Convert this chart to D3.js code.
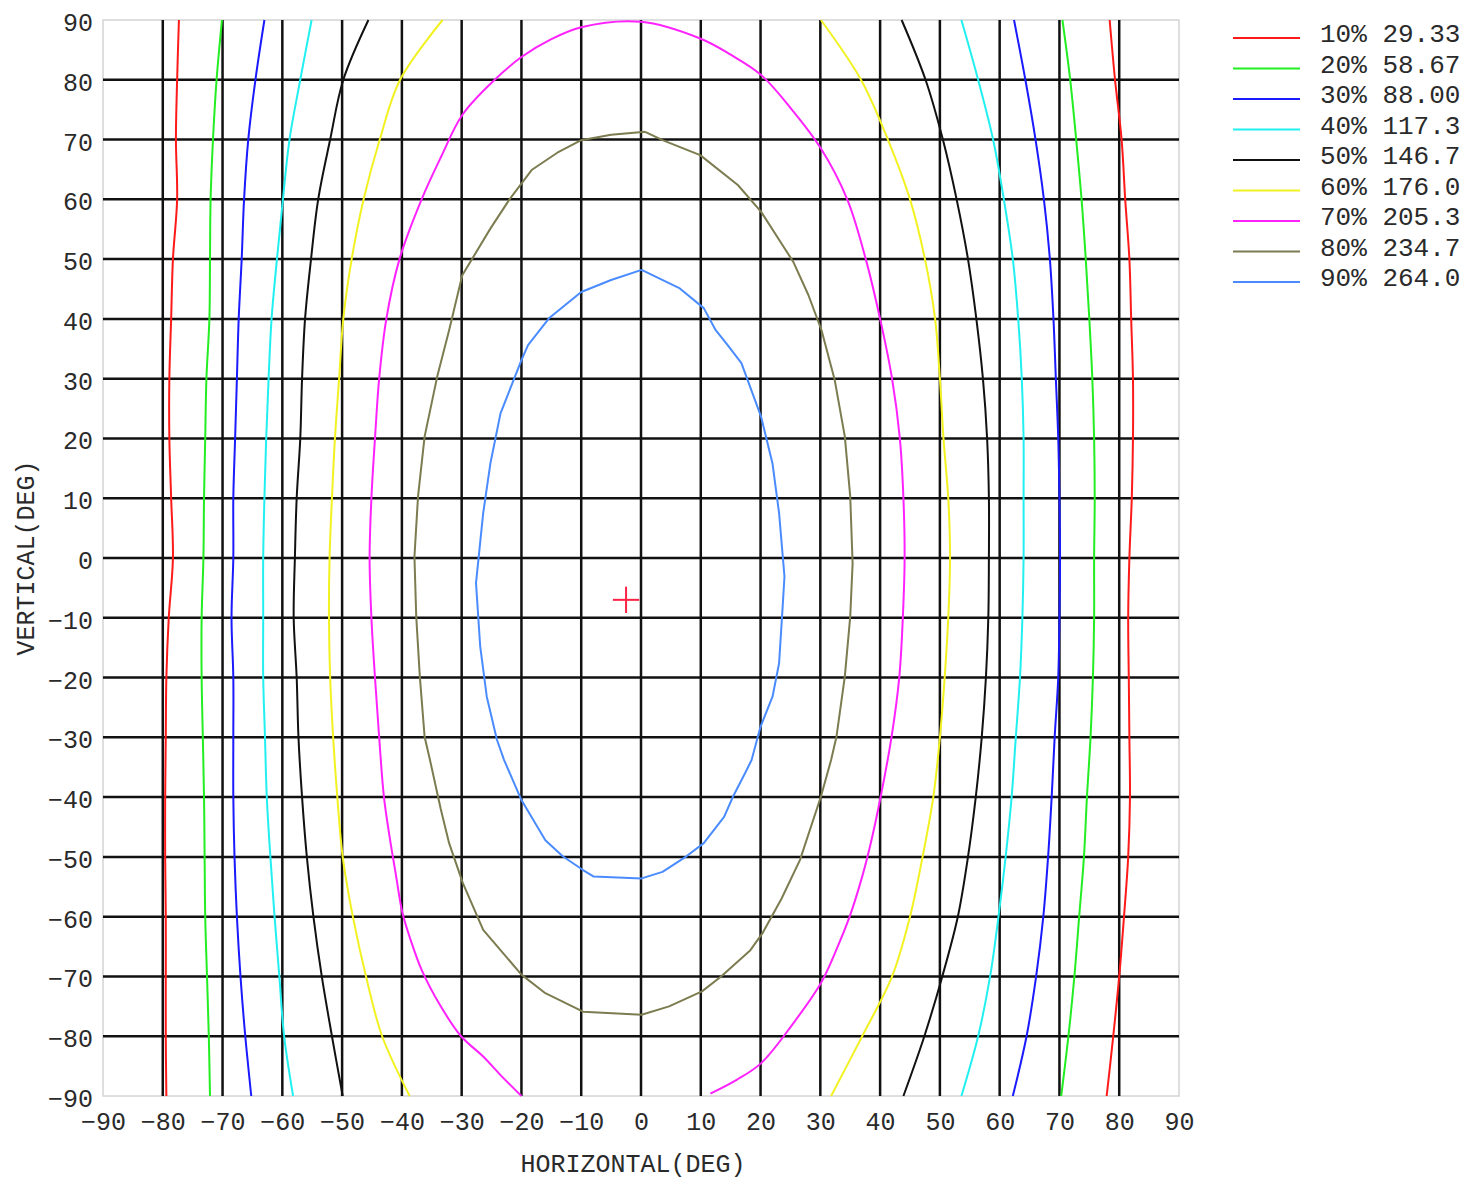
<!DOCTYPE html>
<html>
<head>
<meta charset="utf-8">
<script src="https://cdn.jsdelivr.net/npm/d3@7"></script>
<style>
  body { margin: 0; background: #fff; }
  svg text { font-family: "Liberation Mono", "Courier New", monospace; fill: #2a2a2a; }
</style>
</head>
<body>
<svg id="chart" width="1473" height="1182"></svg>
<script>
// ---- contour levels (percent of peak, absolute value) ----
const levelPercents = [10, 20, 30, 40, 50, 60, 70, 80, 90];
const levelValues = [29.33, 58.67, 88.00, 117.3, 146.7, 176.0, 205.3, 234.7, 264.0];
const levelColors = ["#ff1a1a", "#22ee22", "#1a1aff", "#22f0f0", "#111111", "#f2f222", "#ff22ff", "#7c7c50", "#4a8cff"];

// ---- axes ----
const axisTicks = d3.range(-90, 91, 10);
const gridTicks = d3.range(-80, 81, 10);

// ---- peak marker [horizontal, vertical] in degrees ----
const peakPoint = [-2.5, -7];

// ---- iso-lines, [horizontal deg, vertical deg] ----
const iso10Left = [[-77.3,90],[-77.6,80],[-77.8,70],[-77.6,60],[-78.3,50],[-78.6,40],[-78.9,30],[-78.9,20],[-78.6,10],[-78.3,0],[-79.0,-10],[-79.4,-20],[-79.5,-30],[-79.6,-40],[-79.6,-50],[-79.5,-60],[-79.5,-70],[-79.5,-80],[-79.4,-90]];
const iso10Right = [[78.4,90],[79.3,80],[80.4,70],[81.0,60],[81.7,50],[82.0,40],[82.3,30],[82.3,20],[82.1,10],[81.7,0],[81.5,-10],[81.6,-20],[81.7,-30],[81.8,-40],[81.5,-50],[80.8,-60],[80.0,-70],[79.0,-80],[77.9,-90]];
const iso20Left = [[-70.1,90],[-71.0,80],[-71.6,70],[-72.0,60],[-72.1,50],[-72.2,40],[-72.7,30],[-72.9,20],[-73.1,10],[-73.2,0],[-73.5,-10],[-73.5,-20],[-73.3,-30],[-73.1,-40],[-73.0,-50],[-72.9,-60],[-72.6,-70],[-72.3,-80],[-72.1,-90]];
const iso20Right = [[70.5,90],[71.8,80],[72.8,70],[73.7,60],[74.4,50],[75.0,40],[75.5,30],[75.8,20],[75.9,10],[75.8,0],[75.8,-10],[75.6,-20],[75.2,-30],[74.6,-40],[74.1,-50],[73.3,-60],[72.5,-70],[71.5,-80],[70.3,-90]];
const iso30Left = [[-63.0,90],[-64.5,80],[-65.7,70],[-66.4,60],[-66.8,50],[-67.3,40],[-67.6,30],[-67.9,20],[-68.2,10],[-68.2,0],[-68.5,-10],[-68.2,-20],[-68.2,-30],[-68.2,-40],[-68.0,-50],[-67.6,-60],[-67.0,-70],[-66.2,-80],[-65.2,-90]];
const iso30Right = [[62.4,90],[64.3,80],[66.0,70],[67.4,60],[68.4,50],[69.0,40],[69.4,30],[69.8,20],[70.0,10],[70.1,0],[70.0,-10],[69.8,-20],[69.2,-30],[68.7,-40],[68.1,-50],[67.3,-60],[66.1,-70],[64.5,-80],[62.2,-90]];
const iso40Left = [[-55.1,90],[-57.0,80],[-58.8,70],[-59.9,60],[-60.9,50],[-61.8,40],[-62.3,30],[-62.7,20],[-63.0,10],[-63.2,0],[-63.2,-10],[-63.2,-20],[-62.9,-30],[-62.6,-40],[-62.0,-50],[-61.3,-60],[-60.5,-70],[-59.7,-80],[-58.2,-90]];
const iso40Right = [[53.6,90],[56.4,80],[58.9,70],[60.7,60],[62.2,50],[63.1,40],[63.7,30],[64.0,20],[64.0,10],[64.0,0],[63.8,-10],[63.4,-20],[62.7,-30],[62.0,-40],[61.0,-50],[59.8,-60],[58.4,-70],[56.4,-80],[53.6,-90]];
const iso50Left = [[-45.6,90],[-49.8,80],[-52.0,70],[-54.0,60],[-55.2,50],[-56.2,40],[-56.7,30],[-57.0,20],[-57.6,10],[-57.9,0],[-58.1,-10],[-57.6,-20],[-57.3,-30],[-56.7,-40],[-55.9,-50],[-54.8,-60],[-53.4,-70],[-51.7,-80],[-49.9,-90]];
const iso50Right = [[43.6,90],[47.6,80],[50.5,70],[52.8,60],[54.7,50],[56.1,40],[57.2,30],[57.9,20],[58.2,10],[58.2,0],[58.1,-10],[57.7,-20],[57.0,-30],[56.0,-40],[54.7,-50],[53.0,-60],[50.4,-70],[47.4,-80],[43.9,-90]];
const iso60Left = [[-33.2,90],[-40.3,80],[-43.7,70],[-46.4,60],[-48.4,50],[-49.8,40],[-50.5,30],[-51.2,20],[-51.7,10],[-52.1,0],[-52.2,-10],[-52.0,-20],[-51.5,-30],[-50.8,-40],[-49.9,-50],[-48.2,-60],[-46.0,-70],[-43.3,-80],[-38.7,-90]];
const iso60Right = [[30.1,90],[36.8,80],[41.3,70],[45.0,60],[47.5,50],[49.2,40],[50.0,30],[50.6,20],[51.4,10],[51.7,0],[51.4,-10],[50.8,-20],[50.0,-30],[48.9,-40],[47.1,-50],[45.0,-60],[42.0,-70],[37.0,-80],[31.8,-90]];
const iso70 = [[-20.0,-90],[-23.5,-86.5],[-26.4,-83.4],[-30.1,-80],[-33.5,-75],[-36.7,-68.9],[-38.5,-64],[-39.9,-59.4],[-41.0,-53],[-42.0,-47],[-43.0,-40],[-43.8,-30],[-44.5,-20],[-45.1,-10],[-45.4,0],[-45.1,10],[-44.5,20],[-43.8,30],[-42.6,40],[-40.4,50],[-36.7,60],[-33.5,67],[-29.9,74.1],[-25.0,79.5],[-20.0,83.8],[-15.0,86.8],[-10.0,88.8],[0.0,89.7],[9.9,86.9],[15.0,84.2],[20.1,80.8],[25.0,75.3],[30.1,68.5],[34.5,60.0],[37.6,50.0],[40.0,40.0],[42.0,30.0],[43.3,20.0],[43.9,10.0],[44.1,0],[43.8,-10],[43.2,-20],[41.9,-30],[40.1,-39.9],[38.6,-47],[37.0,-53.3],[34.9,-60],[32.9,-65],[30.1,-71.1],[25.5,-77.8],[20.1,-84.5],[16.0,-87.3],[11.6,-89.6]];
const iso80 = [[0.7,71.3],[-5.0,70.8],[-10.0,69.9],[-14.0,67.8],[-18.3,64.9],[-22.0,60.0],[-25.2,55.1],[-29.9,47.3],[-32.1,38.1],[-34.1,30.3],[-36.2,20.3],[-37.3,10.3],[-37.9,0.2],[-37.6,-9.8],[-37.0,-19.8],[-36.2,-29.9],[-35.3,-33.8],[-33.5,-42.0],[-32.1,-47.7],[-29.8,-54.4],[-26.4,-62.2],[-20.0,-69.7],[-16.0,-72.8],[-9.7,-75.9],[0.1,-76.4],[4.7,-75.0],[10.2,-72.5],[13.4,-70.0],[18.3,-65.6],[20.3,-62.8],[23.5,-57.0],[26.6,-50.5],[30.1,-39.9],[31.8,-33.8],[32.7,-29.9],[34.1,-19.8],[35.0,-9.8],[35.4,-0.9],[35.0,10.3],[34.1,20.3],[32.4,29.8],[30.2,38.1],[28.0,44.0],[25.5,49.5],[20.1,57.9],[16.2,62.4],[9.9,67.4],[3.6,69.9],[0.7,71.3]];
const iso90 = [[0.1,48.2],[-5.0,46.5],[-10.0,44.5],[-15.4,40.1],[-18.9,35.6],[-20.0,33.1],[-23.5,24.2],[-25.2,15.8],[-26.4,7.5],[-27.6,-4.2],[-26.9,-14.8],[-25.8,-23.2],[-24.1,-30.4],[-22.9,-33.8],[-20.0,-40.5],[-16.0,-47.2],[-13.1,-49.9],[-9.7,-52.2],[-7.9,-53.3],[0.1,-53.6],[3.6,-52.5],[7.6,-49.9],[10.5,-47.7],[13.9,-43.3],[15.4,-39.9],[17.4,-36.0],[18.5,-33.8],[20.0,-28.2],[22.0,-23.2],[23.1,-17.6],[23.7,-8.1],[24.0,-3.1],[23.1,7.5],[22.0,15.8],[20.1,23.6],[16.8,32.6],[14.5,35.6],[12.5,38.1],[10.5,41.8],[6.5,45.1],[0.1,48.2]];

// which level each branch belongs to, and how it is traced
const isoBranches = [
  { level: 0, pts: iso10Left, smooth: true }, { level: 0, pts: iso10Right, smooth: true },
  { level: 1, pts: iso20Left, smooth: true }, { level: 1, pts: iso20Right, smooth: true },
  { level: 2, pts: iso30Left, smooth: true }, { level: 2, pts: iso30Right, smooth: true },
  { level: 3, pts: iso40Left, smooth: true }, { level: 3, pts: iso40Right, smooth: true },
  { level: 4, pts: iso50Left, smooth: true }, { level: 4, pts: iso50Right, smooth: true },
  { level: 5, pts: iso60Left, smooth: true }, { level: 5, pts: iso60Right, smooth: true },
  { level: 6, pts: iso70, smooth: true },
  { level: 7, pts: iso80, smooth: false },
  { level: 8, pts: iso90, smooth: false }
];

// ---- layout ----
const svg = d3.select("#chart");
const plot = { left: 103, top: 20, size: 1076 };
const x = d3.scaleLinear().domain([-90, 90]).range([plot.left, plot.left + plot.size]);
const y = d3.scaleLinear().domain([-90, 90]).range([plot.top + plot.size, plot.top]);
const fontSize = 25;

// plot frame
svg.append("rect")
  .attr("x", x(-90)).attr("y", y(90))
  .attr("width", x(90) - x(-90)).attr("height", y(-90) - y(90))
  .attr("fill", "#fff").attr("stroke", "#d4d4d4").attr("stroke-width", 1.5);

// grid lines at every 10 degrees inside the frame
const grid = svg.append("g").attr("class", "grid");
grid.selectAll("line.v").data(gridTicks).join("line")
  .attr("class", "v")
  .attr("x1", d => x(d)).attr("x2", d => x(d))
  .attr("y1", y(90)).attr("y2", y(-90))
  .attr("stroke", "#111").attr("stroke-width", 2.5);
grid.selectAll("line.h").data(gridTicks).join("line")
  .attr("class", "h")
  .attr("y1", d => y(d)).attr("y2", d => y(d))
  .attr("x1", x(-90)).attr("x2", x(90))
  .attr("stroke", "#111").attr("stroke-width", 2.5);

// tick labels
const xAxis = d3.axisBottom(x).tickValues(axisTicks).tickSize(0).tickPadding(16).tickFormat(d3.format("d"));
const yAxis = d3.axisLeft(y).tickValues(axisTicks).tickSize(0).tickPadding(10).tickFormat(d3.format("d"));
const gx = svg.append("g").attr("transform", `translate(0,${y(-90)})`).call(xAxis);
const gy = svg.append("g").attr("transform", `translate(${x(-90)},0)`).call(yAxis);
[gx, gy].forEach(g => {
  g.select(".domain").remove();
  g.selectAll("text")
    .style("font-family", '"Liberation Mono", "Courier New", monospace')
    .style("font-size", fontSize + "px")
    .attr("fill", "#2a2a2a");
});
gy.selectAll("text").attr("dy", "0.42em");

// axis titles
svg.append("text")
  .attr("x", 633).attr("y", 1172)
  .attr("text-anchor", "middle")
  .style("font-size", fontSize + "px")
  .text("HORIZONTAL(DEG)");
svg.append("text")
  .attr("transform", "translate(34,558) rotate(-90)")
  .attr("text-anchor", "middle")
  .style("font-size", fontSize + "px")
  .text("VERTICAL(DEG)");

// iso-lines
const lineSmooth = d3.line().x(d => x(d[0])).y(d => y(d[1])).curve(d3.curveCatmullRom.alpha(0.5));
const lineStraight = d3.line().x(d => x(d[0])).y(d => y(d[1]));
svg.append("g").attr("class", "iso")
  .selectAll("path").data(isoBranches).join("path")
  .attr("d", d => (d.smooth ? lineSmooth : lineStraight)(d.pts))
  .attr("fill", "none")
  .attr("stroke", d => levelColors[d.level])
  .attr("stroke-width", 2)
  .attr("stroke-linejoin", "round");

// peak marker
const arm = 2.2;
const marker = svg.append("g").attr("stroke", "#ff2244").attr("stroke-width", 2);
marker.append("line")
  .attr("x1", x(peakPoint[0] - arm)).attr("x2", x(peakPoint[0] + arm))
  .attr("y1", y(peakPoint[1])).attr("y2", y(peakPoint[1]));
marker.append("line")
  .attr("x1", x(peakPoint[0])).attr("x2", x(peakPoint[0]))
  .attr("y1", y(peakPoint[1] + arm)).attr("y2", y(peakPoint[1] - arm));

// legend
const fmtValue = v => (v < 100 ? v.toFixed(2) : v.toFixed(1));
const legend = svg.append("g").attr("class", "legend");
const legendRows = legend.selectAll("g").data(levelPercents).join("g")
  .attr("transform", (d, i) => `translate(1233,${38 + i * 30.5})`);
legendRows.append("line")
  .attr("x1", 0).attr("x2", 67).attr("y1", 0).attr("y2", 0)
  .attr("stroke", (d, i) => levelColors[i]).attr("stroke-width", 2.2);
legendRows.append("text")
  .attr("x", 87).attr("y", 4)
  .style("font-size", "26px")
  .text((d, i) => `${d}% ${fmtValue(levelValues[i])}`);
</script>
</body>
</html>
